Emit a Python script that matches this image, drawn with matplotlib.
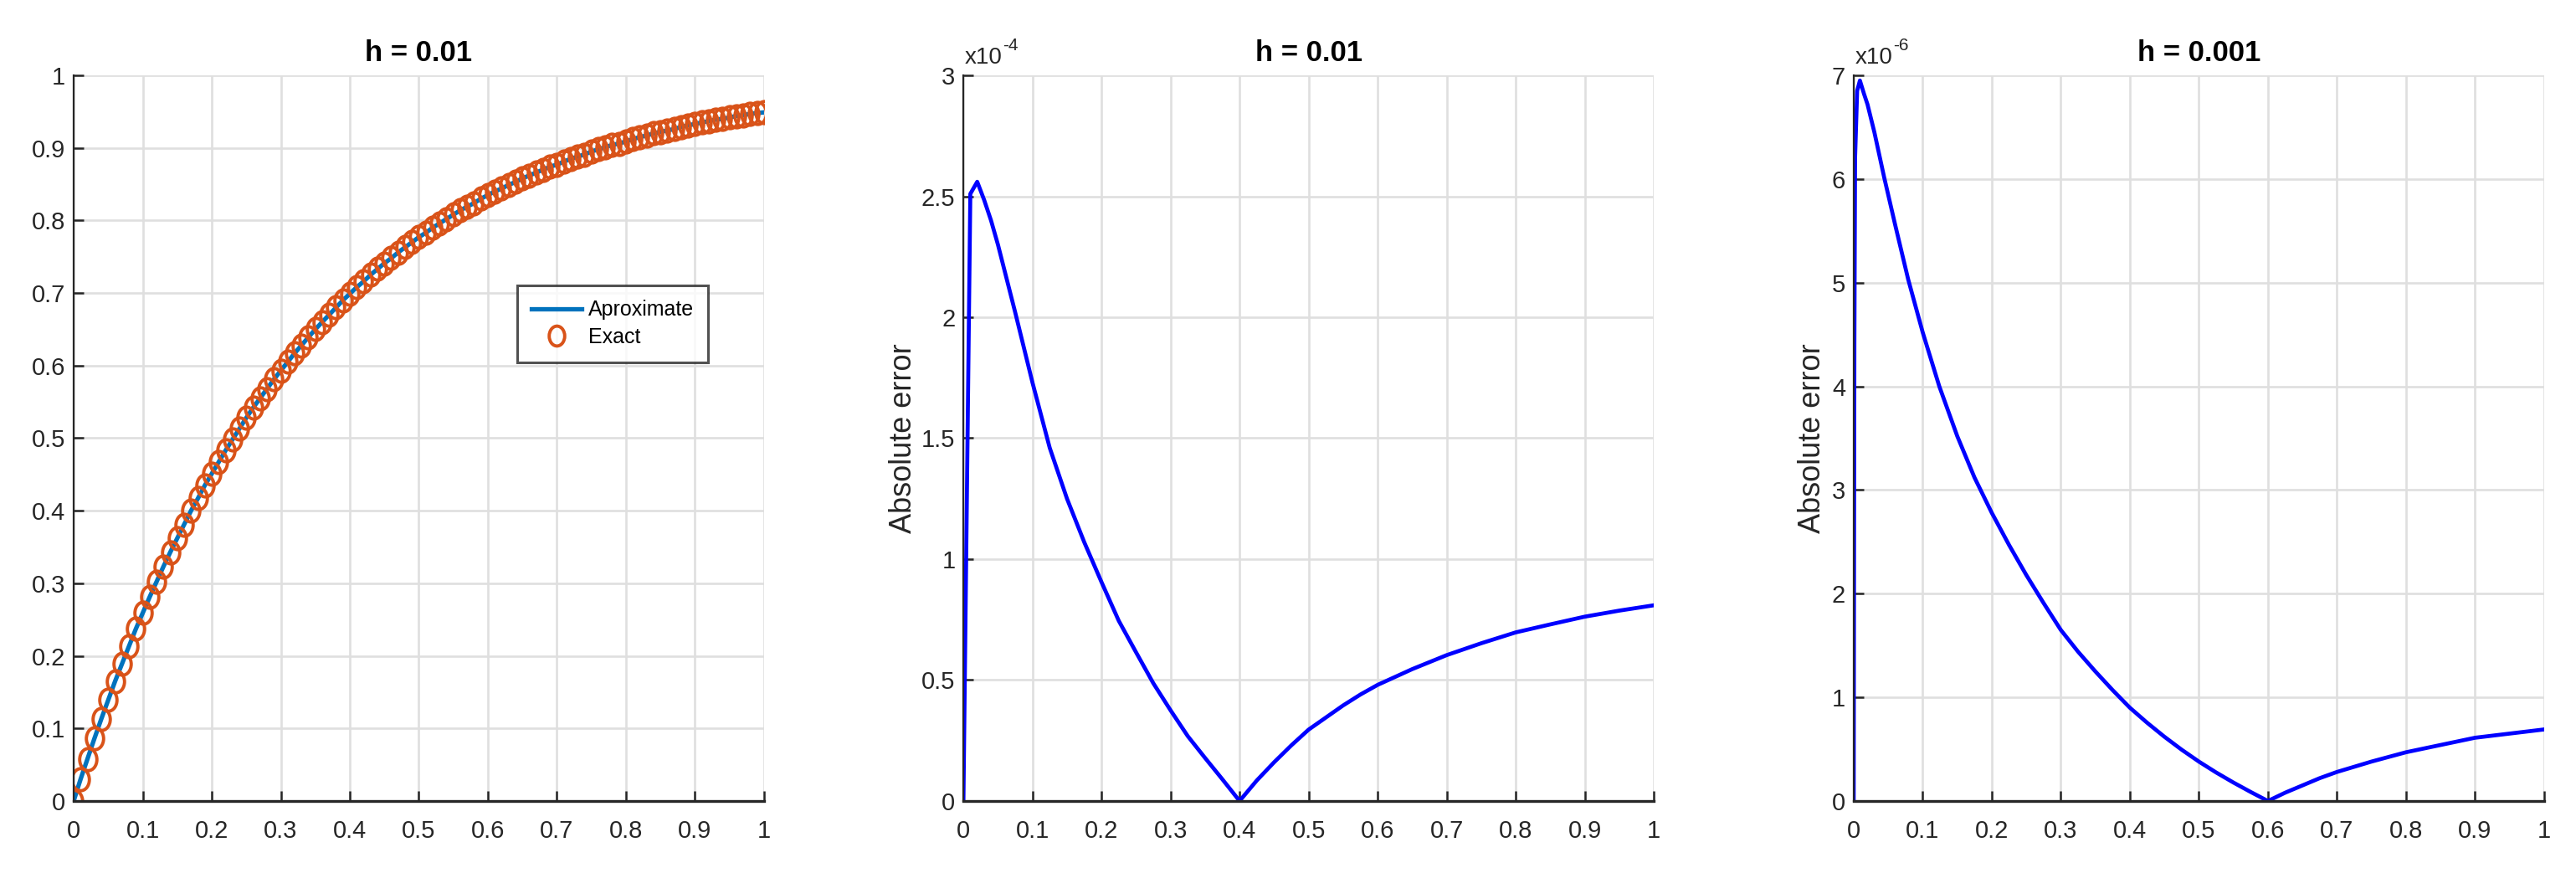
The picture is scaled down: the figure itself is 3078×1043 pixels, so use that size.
import numpy as np
import matplotlib
matplotlib.use("Agg")
import matplotlib.pyplot as plt
from matplotlib.path import Path
from matplotlib.transforms import Affine2D

plt.rcParams['font.family'] = ['Liberation Sans', 'DejaVu Sans']

# ---- data ----
x_sol = np.round(np.arange(0, 101) * 0.01, 2)
y_exact = [0.000, 0.030, 0.058, 0.086, 0.113, 0.139, 0.165, 0.189, 0.213, 0.237,
           0.259, 0.281, 0.302, 0.323, 0.343, 0.362, 0.381, 0.400, 0.417, 0.435,
           0.451, 0.467, 0.483, 0.498, 0.513, 0.528, 0.542, 0.555, 0.568, 0.581,
           0.593, 0.605, 0.617, 0.628, 0.639, 0.650, 0.660, 0.670, 0.680, 0.690,
           0.699, 0.708, 0.716, 0.725, 0.733, 0.741, 0.748, 0.756, 0.763, 0.770,
           0.777, 0.783, 0.790, 0.796, 0.802, 0.808, 0.814, 0.819, 0.824, 0.830,
           0.835, 0.840, 0.844, 0.849, 0.853, 0.858, 0.862, 0.866, 0.870, 0.874,
           0.877, 0.881, 0.885, 0.888, 0.891, 0.895, 0.898, 0.901, 0.904, 0.906,
           0.909, 0.912, 0.915, 0.917, 0.920, 0.922, 0.924, 0.926, 0.929, 0.931,
           0.933, 0.935, 0.937, 0.939, 0.940, 0.942, 0.944, 0.945, 0.947, 0.948,
           0.949]
y_approx = y_exact

# absolute error, h = 0.01 (values in units of 1e-4)
x_err1 = [0, 0.01, 0.02, 0.03, 0.04, 0.05, 0.075, 0.10, 0.125, 0.15, 0.175, 0.20,
          0.225, 0.25, 0.275, 0.30, 0.325, 0.35, 0.375, 0.40,
          0.425, 0.45, 0.475, 0.50, 0.525, 0.55, 0.575, 0.60, 0.65, 0.70, 0.75,
          0.80, 0.85, 0.90, 0.95, 1.00]
err1 = [0, 2.51, 2.56, 2.485, 2.40, 2.30, 2.02, 1.73, 1.46, 1.25, 1.07, 0.905,
        0.745, 0.615, 0.487, 0.375, 0.268, 0.178, 0.09, 0.0,
        0.085, 0.16, 0.23, 0.295, 0.345, 0.395, 0.44, 0.48, 0.545, 0.603, 0.652,
        0.697, 0.73, 0.762, 0.787, 0.809]

# absolute error, h = 0.001 (values in units of 1e-6)
x_err2 = [0, 0.001, 0.002, 0.005, 0.009, 0.015, 0.02, 0.03, 0.044, 0.06, 0.079,
          0.10, 0.124, 0.15, 0.175, 0.20, 0.225, 0.25, 0.275, 0.30, 0.325, 0.35,
          0.375, 0.40, 0.425, 0.45, 0.475, 0.50, 0.525, 0.55, 0.575, 0.60,
          0.625, 0.65, 0.675, 0.70, 0.75, 0.80, 0.85, 0.90, 0.95, 1.00]
err2 = [0, 4.4, 6.2, 6.85, 6.95, 6.82, 6.72, 6.45, 6.02, 5.56, 5.03,
        4.52, 4.00, 3.52, 3.12, 2.78, 2.47, 2.18, 1.91, 1.65, 1.44, 1.25,
        1.07, 0.90, 0.755, 0.62, 0.495, 0.38, 0.275, 0.178, 0.087, 0.0,
        0.08, 0.15, 0.22, 0.28, 0.38, 0.47, 0.54, 0.61, 0.65, 0.69]

xticks = np.round(np.arange(0, 11) * 0.1, 1)
xtick_labels = ['0', '0.1', '0.2', '0.3', '0.4', '0.5', '0.6', '0.7', '0.8', '0.9', '1']

dark = '#262626'
gridc = '#dfdfdf'

fig = plt.figure(figsize=(30.78, 10.43), dpi=100)
lefts = [0.0286, 0.3740, 0.7196]
width = 0.268
bottom, height = 0.0825, 0.8312


def style(ax, yticks, ylabels):
    ax.set_xlim(0, 1)
    ax.set_xticks(xticks)
    ax.set_xticklabels(xtick_labels)
    ax.set_yticks(yticks)
    ax.set_yticklabels(ylabels)
    ax.set_ylim(yticks[0], yticks[-1])
    ax.grid(True, color=gridc, linewidth=1.9)
    ax.set_axisbelow(True)
    for s in ['top', 'right']:
        ax.spines[s].set_visible(False)
    for s in ['left', 'bottom']:
        ax.spines[s].set_color(dark)
    ax.spines['left'].set_linewidth(1.6)
    ax.spines['bottom'].set_linewidth(2.4)
    ax.tick_params(axis='both', direction='in', length=8.5, width=1.8,
                   colors=dark, labelsize=21)
    ax.tick_params(axis='x', pad=16)
    ax.tick_params(axis='y', pad=7)


def offset_label(ax, expo):
    ax.annotate('x10', xy=(0, 1), xycoords='axes fraction', xytext=(1, 6),
                textcoords='offset points', fontsize=20, color=dark,
                ha='left', va='bottom')
    ax.annotate(expo, xy=(0, 1), xycoords='axes fraction', xytext=(34, 19),
                textcoords='offset points', fontsize=15, color=dark,
                ha='left', va='bottom')


# squeezed circle marker, as in the picture
ring = Path.unit_circle().transformed(Affine2D().scale(0.78, 1.0))

# panel 1: solution
ax1 = fig.add_axes([lefts[0], bottom, width, height])
ax1.plot(x_sol, y_approx, color='#0072BD', linewidth=3.8, label='Aproximate')
ax1.plot(x_sol, y_exact, linestyle='none', marker=ring, markersize=19,
         markerfacecolor='none', markeredgecolor='#D95319', markeredgewidth=2.8,
         label='Exact')
style(ax1, np.round(np.arange(0, 11) * 0.1, 1), xtick_labels)
ax1.set_title('h = 0.01', fontsize=25, fontweight='bold', pad=12)
leg = ax1.legend(loc='upper left', bbox_to_anchor=(0.642, 0.7105), borderaxespad=0,
                 fancybox=False, edgecolor=dark, fontsize=18, handlelength=2.4,
                 borderpad=0.7, labelspacing=0.35, handletextpad=0.3,
                 markerscale=0.9)
leg.get_frame().set_linewidth(2.2)

# panel 2: error h = 0.01
ax2 = fig.add_axes([lefts[1], bottom, width, height])
ax2.plot(x_err1, err1, color='#0000FF', linewidth=3.4)
style(ax2, [0, 0.5, 1, 1.5, 2, 2.5, 3], ['0', '0.5', '1', '1.5', '2', '2.5', '3'])
ax2.set_title('h = 0.01', fontsize=25, fontweight='bold', pad=12)
ax2.set_ylabel('Absolute error', fontsize=26, color=dark, labelpad=3)
offset_label(ax2, '-4')

# panel 3: error h = 0.001
ax3 = fig.add_axes([lefts[2], bottom, width, height])
ax3.plot(x_err2, err2, color='#0000FF', linewidth=3.4)
style(ax3, list(range(0, 8)), [str(v) for v in range(0, 8)])
ax3.set_title('h = 0.001', fontsize=25, fontweight='bold', pad=12)
ax3.set_ylabel('Absolute error', fontsize=26, color=dark, labelpad=4)
offset_label(ax3, '-6')

fig.savefig('out.png', dpi=100, facecolor='white')
